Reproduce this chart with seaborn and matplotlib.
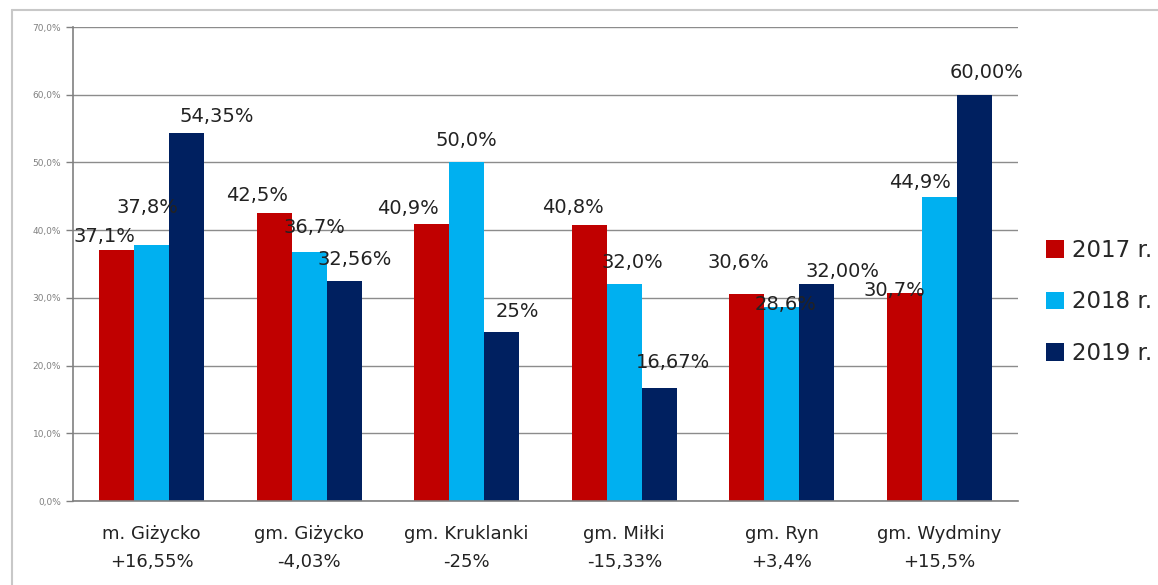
import matplotlib
matplotlib.use("Agg")
import matplotlib.pyplot as plt
import numpy as np
import pandas as pd
import seaborn as sns

# data
gminy = ["m. Giżycko", "gm. Giżycko", "gm. Kruklanki", "gm. Miłki", "gm. Ryn", "gm. Wydminy"]
zmiana = ["+16,55%", "-4,03%", "-25%", "-15,33%", "+3,4%", "+15,5%"]
lata = ["2017 r.", "2018 r.", "2019 r."]
v2017 = [37.1, 42.5, 40.9, 40.8, 30.6, 30.7]
v2018 = [37.8, 36.7, 50.0, 32.0, 28.6, 44.9]
v2019 = [54.35, 32.56, 25.0, 16.67, 32.00, 60.00]
etykiety = [
    ["37,1%", "42,5%", "40,9%", "40,8%", "30,6%", "30,7%"],
    ["37,8%", "36,7%", "50,0%", "32,0%", "28,6%", "44,9%"],
    ["54,35%", "32,56%", "25%", "16,67%", "32,00%", "60,00%"],
]

# label offsets from the bar top centre (pixels), placed like in the original
przesuniecia = [
    [(-12, 13), (-17, 18), (-24, 16), (-16, 17), (-8, 31), (-10, 3)],
    [(-4, 38), (5, 25), (0, 22), (8, 22), (4, 3), (-19, 14)],
    [(30, 16), (10, 21), (16, 20), (14, 26), (26, 13), (12, 22)],
]

kolory = ["#C00000", "#00B0F0", "#002060"]

df = pd.DataFrame({
    "gmina": gminy * 3,
    "rok": [lata[0]] * 6 + [lata[1]] * 6 + [lata[2]] * 6,
    "wartosc": v2017 + v2018 + v2019,
})

sns.set_style("white")
plt.rcParams["font.family"] = ["DejaVu Sans"]

fig = plt.figure(figsize=(11.58, 5.85), dpi=100)
ax = fig.add_axes([73 / 1158, 1 - 501 / 585, (1018 - 73) / 1158, (501 - 27) / 585])

sns.barplot(data=df, x="gmina", y="wartosc", hue="rok", palette=kolory,
            width=0.667, saturation=1, linewidth=0, ax=ax, legend=True)

for i, cont in enumerate(ax.containers):
    for j, bar in enumerate(cont):
        dx, dy = przesuniecia[i][j]
        ax.annotate(etykiety[i][j],
                    (bar.get_x() + bar.get_width() / 2, bar.get_height()),
                    xytext=(dx, dy), textcoords="offset pixels",
                    ha="center", va="center", fontsize=14, color="#222222")

ax.set_ylim(0, 70)
ax.set_xlim(-0.5, 5.5)
ax.set_yticks(np.arange(0, 71, 10))
ax.set_yticklabels([f"{t},0%" for t in range(0, 71, 10)], fontsize=6.5, color="#808080")
ax.yaxis.grid(True, color="#8c8c8c", linewidth=1)
ax.set_axisbelow(True)

ax.set_xticks(range(6))
ax.set_xticklabels([f"{g}\n{z}" for g, z in zip(gminy, zmiana)], fontsize=13,
                   color="#222222", linespacing=1.75)
ax.set_xticks(np.arange(-0.5, 6, 1), minor=True)
ax.tick_params(axis="x", which="major", length=0, pad=17)
ax.tick_params(axis="x", which="minor", length=6, color="#808080", width=1)
ax.tick_params(axis="y", length=5, color="#808080", width=1, left=True)
ax.set_xlabel("")
ax.set_ylabel("")

for s in ["top", "right"]:
    ax.spines[s].set_visible(False)
for s in ["left", "bottom"]:
    ax.spines[s].set_color("#808080")
    ax.spines[s].set_linewidth(1.2)

leg = ax.legend(loc="center left", bbox_to_anchor=(1.02, 0.42), frameon=False,
                fontsize=16.5, handlelength=0.8, handleheight=0.8,
                labelspacing=1.25, handletextpad=0.35, borderaxespad=0)

# light frame of the original picture (top and left edge)
fig.add_artist(plt.Line2D([12 / 1158, 1], [1 - 10 / 585] * 2, color="#c8c8c8", lw=1.5))
fig.add_artist(plt.Line2D([12 / 1158] * 2, [0, 1 - 10 / 585], color="#c8c8c8", lw=1.5))

fig.savefig("out.png", dpi=100)
